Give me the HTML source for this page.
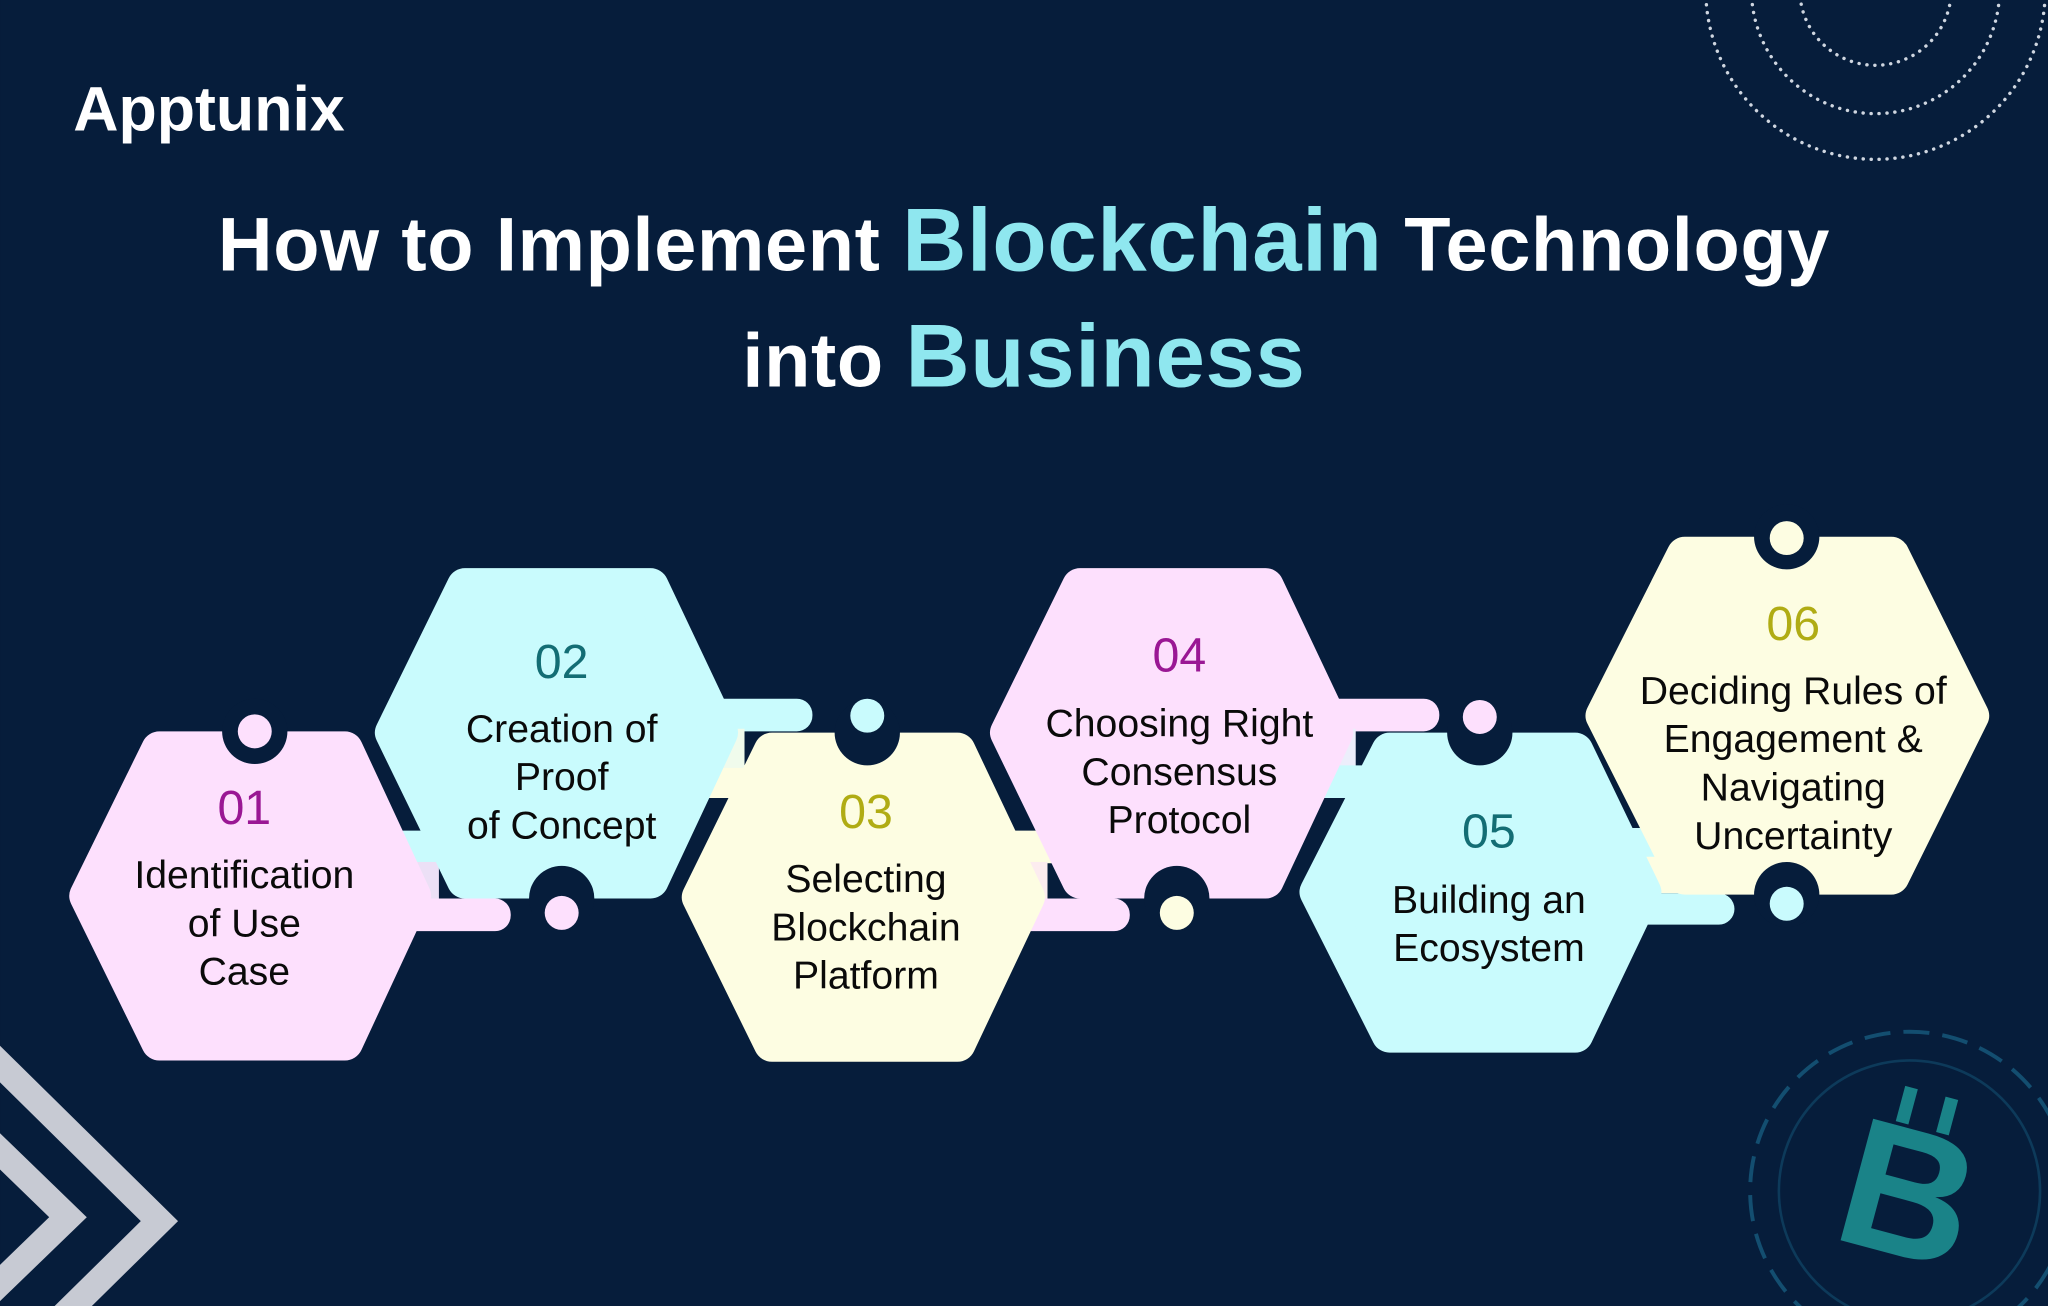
<!DOCTYPE html>
<html><head><meta charset="utf-8"><style>
html,body{margin:0;padding:0;background:#061d3b;overflow:hidden;width:2048px;height:1306px;}
svg{display:block}
text{font-family:"Liberation Sans",sans-serif;}
</style></head><body>
<svg width="2048" height="1306" viewBox="0 0 1568 1000" xmlns="http://www.w3.org/2000/svg">
<rect width="1568" height="1000" fill="#061d3b"/>
<g fill="none" stroke="#cfd6e0" stroke-linecap="round" stroke-dasharray="0.1 6" stroke-width="2.6">
<circle cx="1436" cy="-8" r="58"/><circle cx="1436" cy="-8" r="95"/><circle cx="1436" cy="-8" r="130"/>
</g>
<g fill="none" stroke="#c7cad3" stroke-width="20">
<polyline points="-10,805 122,935 -10,1065"/>
<polyline points="-10,872 52,932 -10,992"/>
</g>
<g>
<circle cx="1462" cy="912" r="122" fill="none" stroke="#134e70" stroke-width="3" stroke-dasharray="20 10"/>
<circle cx="1462" cy="912" r="100" fill="none" stroke="#0d3a5a" stroke-width="2"/>
<text x="1462" y="962" font-size="140" font-weight="bold" fill="#1a8388" text-anchor="middle" transform="rotate(15 1462 912)">B</text>
<rect x="1438" y="835" width="10" height="28" fill="#1a8388" transform="rotate(15 1462 912)"/>
<rect x="1470" y="835" width="10" height="28" fill="#1a8388" transform="rotate(15 1462 912)"/>
</g>
<text x="56" y="100" font-size="48" font-weight="bold" fill="#fff">Apptunix</text>
<text x="784" y="207" font-size="58" font-weight="bold" fill="#fff" text-anchor="middle" letter-spacing="0.5">How to Implement <tspan fill="#8fe7ef" font-size="68">Blockchain</tspan> Technology</text>
<text x="784" y="296" font-size="58" font-weight="bold" fill="#fff" text-anchor="middle" letter-spacing="0.5">into <tspan fill="#8fe7ef" font-size="68">Business</tspan></text>

<g>
<rect x="296" y="636" width="68" height="26" rx="13" fill="#c9fbfd"/>
<rect x="296" y="660" width="40" height="30" fill="#ece0f6"/>
<rect x="296" y="688" width="95" height="25" rx="12" fill="#fde0fd"/>
<rect x="530" y="535" width="92" height="25" rx="12" fill="#c9fbfd"/>
<rect x="530" y="586" width="70" height="25" rx="12" fill="#fdfde2"/>
<rect x="530" y="558" width="40" height="30" fill="#f0fbec"/>
<rect x="762" y="636" width="72" height="25" rx="12" fill="#fdfde2"/>
<rect x="762" y="660" width="40" height="30" fill="#fcecef"/>
<rect x="772" y="688" width="93" height="25" rx="12" fill="#fde0fd"/>
<rect x="1000" y="535" width="102" height="25" rx="12" fill="#fde0fd"/>
<rect x="998" y="558" width="40" height="30" fill="#eceefb"/>
<rect x="998" y="586" width="72" height="25" rx="12" fill="#c9fbfd"/>
<rect x="1232" y="634" width="64" height="25" rx="12" fill="#c9fbfd"/>
<rect x="1230" y="656" width="80" height="28" rx="12" fill="#fdfde2"/>
<rect x="1236" y="684" width="92" height="24" rx="12" fill="#c9fbfd"/>
</g>

<g stroke-linejoin="round" stroke-width="28">
<polygon points="67,686 122,574 264,574 316,686 264,798 122,798" fill="#fde0fd" stroke="#fde0fd"/>
<polygon points="301,561 356,449 498,449 551,561 498,674 356,674" fill="#c9fbfd" stroke="#c9fbfd"/>
<polygon points="536,687 591,575 733,575 786,687 733,799 591,799" fill="#fdfde2" stroke="#fdfde2"/>
<polygon points="772,561 827,449 969,449 1022,561 969,674 827,674" fill="#fde0fd" stroke="#fde0fd"/>
<polygon points="1009,683 1064,575 1206,575 1258,683 1206,792 1064,792" fill="#c9fbfd" stroke="#c9fbfd"/>
<polygon points="1228,548 1290,425 1448,425 1509,548 1448,671 1290,671" fill="#fdfde2" stroke="#fdfde2"/>
</g>

<g>
<circle cx="195" cy="560" r="25" fill="#061d3b"/><circle cx="195" cy="560" r="13" fill="#fde0fd"/>
<circle cx="430" cy="688" r="25" fill="#061d3b"/><circle cx="430" cy="699" r="13" fill="#fde0fd"/>
<circle cx="664" cy="561" r="25" fill="#061d3b"/><circle cx="664" cy="548" r="13" fill="#c9fbfd"/>
<circle cx="901" cy="688" r="25" fill="#061d3b"/><circle cx="901" cy="699" r="13" fill="#fdfde2"/>
<circle cx="1133" cy="561" r="25" fill="#061d3b"/><circle cx="1133" cy="549" r="13" fill="#fde0fd"/>
<circle cx="1368" cy="411" r="25" fill="#061d3b"/><circle cx="1368" cy="412" r="13" fill="#fdfde2"/>
<circle cx="1368" cy="685" r="25" fill="#061d3b"/><circle cx="1368" cy="692" r="13" fill="#c9fbfd"/>
</g>

<g font-size="37" text-anchor="middle">
<text x="187" y="631" fill="#9a1794">01</text>
<text x="430" y="519" fill="#136d74">02</text>
<text x="663" y="634" fill="#b0ac14">03</text>
<text x="903" y="514" fill="#9a1794">04</text>
<text x="1140" y="649" fill="#136d74">05</text>
<text x="1373" y="490" fill="#b0ac14">06</text>
</g>
<g font-size="30" text-anchor="middle" fill="#0a0a0a">
<text x="187" y="680">Identification</text><text x="187" y="717">of Use</text><text x="187" y="754">Case</text>
<text x="430" y="568">Creation of</text><text x="430" y="605">Proof</text><text x="430" y="642">of Concept</text>
<text x="663" y="683">Selecting</text><text x="663" y="720">Blockchain</text><text x="663" y="757">Platform</text>
<text x="903" y="564">Choosing Right</text><text x="903" y="601">Consensus</text><text x="903" y="638">Protocol</text>
<text x="1140" y="699">Building an</text><text x="1140" y="736">Ecosystem</text>
<text x="1373" y="539">Deciding Rules of</text><text x="1373" y="576">Engagement &amp;</text><text x="1373" y="613">Navigating</text><text x="1373" y="650">Uncertainty</text>
</g>
</svg>
</body></html>
